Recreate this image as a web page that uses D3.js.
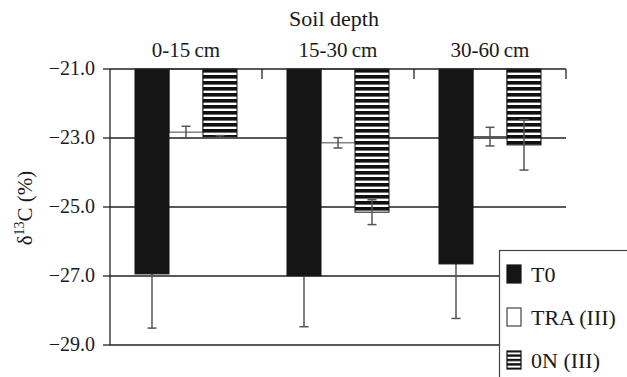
<!DOCTYPE html>
<html>
<head>
<meta charset="utf-8">
<script src="https://cdn.jsdelivr.net/npm/d3@7/dist/d3.min.js"></script>
</head>
<body style="margin:0;background:#fff">
<script>
// Soil depth classes and the three treatments
const depths = ["0-15\u2009cm", "15-30\u2009cm", "30-60\u2009cm"];
const series = ["T0", "TRA (III)", "0N (III)"];

// Mean δ13C per depth, one array per treatment
const t0Values  = [-26.94, -26.99, -26.65];
const traValues = [-22.83, -23.14, -22.96];
const onValues  = [-22.96, -25.15, -23.20];

// Error bar half-widths
const t0Errors  = [1.57, 1.48, 1.58];
const traErrors = [0.17, 0.15, 0.27];
const onErrors  = [0.03, 0.36, 0.73];

const yTicks = [-21, -23, -25, -27, -29];

const serifFont = d => "'Liberation Serif', 'Times New Roman', monospace";
const TEXT = "#1a1a1a";

const W = 627, H = 377;
const svg = d3.select("body").append("svg").attr("width", W).attr("height", H);
const margin = { left: 110, right: 61, top: 69, bottom: 32 };

const y = d3.scaleLinear().domain([-21, -29]).range([margin.top, H - margin.bottom]);
const x0 = d3.scaleBand().domain(depths).range([margin.left, W - margin.right]).padding(0);
const x1 = d3.scaleBand().domain(series).range([0, x0.bandwidth()]).paddingInner(0).paddingOuter(0.735);

const rows = series.map((s, i) => ({
  name: s,
  values: [t0Values, traValues, onValues][i],
  errors: [t0Errors, traErrors, onErrors][i]
}));

// Horizontal stripe fills
const defs = svg.append("defs");
const pat = defs.append("pattern")
  .attr("id", "stripes").attr("patternUnits", "userSpaceOnUse")
  .attr("x", 0).attr("y", margin.top).attr("width", 8).attr("height", 6);
pat.append("rect").attr("width", 8).attr("height", 6).attr("fill", "#fff");
pat.append("rect").attr("y", 0).attr("width", 8).attr("height", 3.6).attr("fill", "#111");

const pat2 = defs.append("pattern")
  .attr("id", "stripesSmall").attr("patternUnits", "userSpaceOnUse")
  .attr("x", 0).attr("y", 351).attr("width", 8).attr("height", 4.4);
pat2.append("rect").attr("width", 8).attr("height", 4.4).attr("fill", "#fff");
pat2.append("rect").attr("y", 0).attr("width", 8).attr("height", 2.4).attr("fill", "#111");

const axisColor = "#222";

// Gridlines
svg.append("g").selectAll("line").data(yTicks.slice(1)).join("line")
  .attr("x1", margin.left).attr("x2", W - margin.right)
  .attr("y1", d => y(d)).attr("y2", d => y(d))
  .attr("stroke", axisColor).attr("stroke-width", 1.3);

const fills = { "T0": "#151515", "TRA (III)": "#fff", "0N (III)": "url(#stripes)" };
const strokes = { "T0": "#151515", "TRA (III)": "#444", "0N (III)": "#111" };

function drawBars(rowList) {
  const g = svg.append("g");
  rowList.forEach(r => {
    g.selectAll(null).data(r.values.map((v, i) => ({ v, d: depths[i] }))).join("rect")
      .attr("x", d => x0(d.d) + x1(r.name))
      .attr("y", y(-21))
      .attr("width", x1.bandwidth())
      .attr("height", d => y(d.v) - y(-21))
      .attr("fill", fills[r.name])
      .attr("stroke", strokes[r.name])
      .attr("stroke-width", 1);
  });
}

// Open and striped bars, then all error bars, then solid bars
drawBars(rows.filter(r => r.name !== "T0"));

const eg = svg.append("g").attr("stroke", "#555").attr("stroke-width", 1.5);
rows.forEach(r => {
  r.values.forEach((v, i) => {
    const cx = x0(depths[i]) + x1(r.name) + x1.bandwidth() / 2;
    const lo = y(v - r.errors[i]), hi = y(v + r.errors[i]);
    eg.append("line").attr("x1", cx).attr("x2", cx).attr("y1", hi).attr("y2", lo);
    eg.append("line").attr("x1", cx - 4.5).attr("x2", cx + 4.5).attr("y1", hi).attr("y2", hi);
    eg.append("line").attr("x1", cx - 4.5).attr("x2", cx + 4.5).attr("y1", lo).attr("y2", lo);
  });
});

drawBars(rows.filter(r => r.name === "T0"));

// Left axis
const ya = svg.append("g");
ya.append("line").attr("x1", margin.left).attr("x2", margin.left)
  .attr("y1", y(-21)).attr("y2", y(-29)).attr("stroke", axisColor).attr("stroke-width", 1.3);
ya.selectAll(".tk").data(yTicks).join("line")
  .attr("x1", margin.left - 7).attr("x2", margin.left)
  .attr("y1", d => y(d)).attr("y2", d => y(d))
  .attr("stroke", axisColor).attr("stroke-width", 1.3);
ya.selectAll(".tl").data(yTicks).join("text")
  .attr("x", margin.left - 15).attr("y", d => y(d)).attr("dy", "0.32em")
  .attr("text-anchor", "end").attr("fill", TEXT)
  .style("font-family", serifFont).style("font-size", "20px")
  .text(d => "\u2212" + Math.abs(d).toFixed(1));

// Top axis with category separators
const topAxis = svg.append("g");
topAxis.append("line").attr("x1", margin.left).attr("x2", W - margin.right)
  .attr("y1", y(-21)).attr("y2", y(-21)).attr("stroke", axisColor).attr("stroke-width", 1.3);
topAxis.selectAll(".sep").data(depths).join("line")
  .attr("x1", d => x0(d) + x0.bandwidth()).attr("x2", d => x0(d) + x0.bandwidth())
  .attr("y1", y(-21)).attr("y2", y(-21) + 10)
  .attr("stroke", axisColor).attr("stroke-width", 1.3);
topAxis.selectAll(".cat").data(depths).join("text")
  .attr("x", d => x0(d) + x0.bandwidth() / 2).attr("y", 57)
  .attr("text-anchor", "middle").attr("fill", TEXT)
  .style("font-family", serifFont).style("font-size", "21px")
  .text(d => d);

svg.append("text").attr("x", 334).attr("y", 26).attr("text-anchor", "middle")
  .attr("fill", TEXT).style("font-family", serifFont).style("font-size", "22px")
  .text("Soil depth");

// Y title
const yt = svg.append("text").attr("transform", "translate(32,208) rotate(-90)")
  .attr("text-anchor", "middle").attr("fill", TEXT)
  .style("font-family", serifFont).style("font-size", "21px");
yt.append("tspan").text("\u03B4");
yt.append("tspan").style("font-size", "14px").attr("dy", -8).text("13");
yt.append("tspan").attr("dy", 8).text("C (%)");

// Legend
const lg = svg.append("g");
lg.append("rect").attr("x", 499.5).attr("y", 250.5).attr("width", 140).attr("height", 140)
  .attr("fill", "#fff").attr("stroke", "#444").attr("stroke-width", 1.2);
const legendItems = lg.selectAll(".item").data(series).join("g")
  .attr("transform", (d, i) => `translate(507,${265 + i * 43})`);
legendItems.append("rect")
  .attr("width", 14).attr("height", 18)
  .attr("fill", d => d === "0N (III)" ? "url(#stripesSmall)" : fills[d])
  .attr("stroke", d => strokes[d]).attr("stroke-width", 1.2);
legendItems.append("text").attr("x", 24).attr("y", 17)
  .attr("fill", TEXT).style("font-family", serifFont).style("font-size", "22px")
  .text(d => d);
</script>
</body>
</html>
